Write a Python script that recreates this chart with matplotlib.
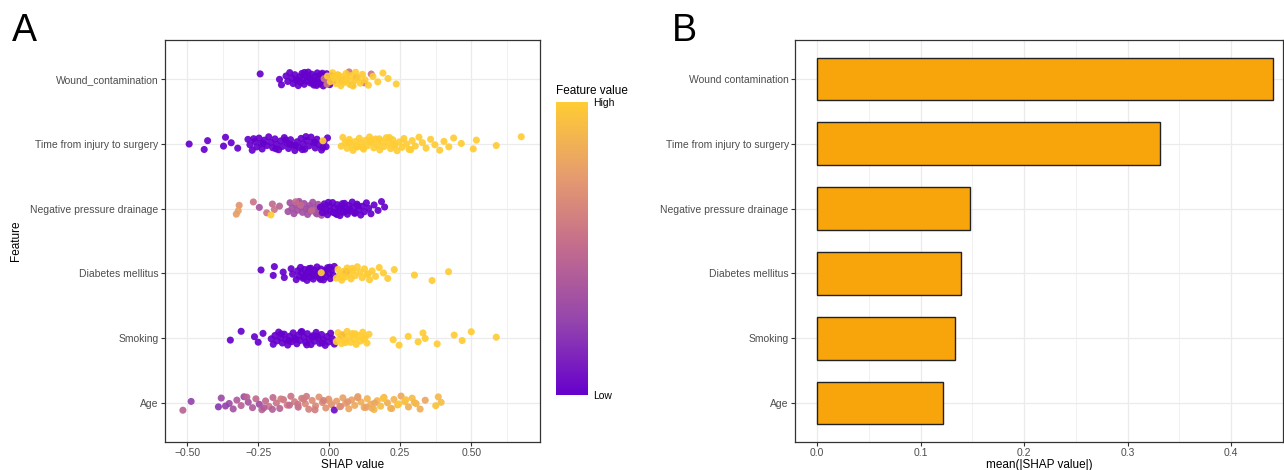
import numpy as np
import matplotlib
matplotlib.use("Agg")
import matplotlib.pyplot as plt
from matplotlib.colors import LinearSegmentedColormap

plt.rcParams['font.family'] = ['Liberation Sans', 'DejaVu Sans']

# features, bottom to top
features = ['Age', 'Smoking', 'Diabetes mellitus', 'Negative pressure drainage',
            'Time from injury to surgery', 'Wound_contamination']
bar_labels = ['Age', 'Smoking', 'Diabetes mellitus', 'Negative pressure drainage',
              'Time from injury to surgery', 'Wound contamination']
mean_abs_shap = [0.122, 0.133, 0.139, 0.148, 0.331, 0.441]

# panel A: SHAP values, grouped by feature value
wound_low = [-0.243, -0.175, -0.168, -0.152, -0.146, -0.139, -0.131, -0.127, -0.121, -0.116,
             -0.109, -0.104, -0.101, -0.096, -0.091, -0.088, -0.083, -0.079, -0.074, -0.071,
             -0.066, -0.062, -0.058, -0.054, -0.049, -0.046, -0.042, -0.038, -0.034, -0.029,
             -0.026, -0.021, -0.017, -0.013, -0.009, -0.004, 0.002, 0.007, 0.013, -0.087,
             -0.068, -0.052, -0.031, -0.112, -0.044, -0.015, -0.061, -0.024]
wound_mid = [-0.018, -0.008, 0.030, 0.044, 0.070, 0.095, 0.123, 0.148, 0.058, 0.081]
wound_high = [-0.006, 0.004, 0.012, 0.018, 0.024, 0.029, 0.036, 0.041, 0.047, 0.053,
              0.059, 0.064, 0.072, 0.078, 0.087, 0.093, 0.102, 0.109, 0.117, 0.126,
              0.138, 0.154, 0.171, 0.189, 0.207, 0.236, 0.033, 0.061, 0.084, 0.015]

time_low = [-0.493, -0.440, -0.428, -0.372, -0.365, -0.345, -0.322, -0.286, -0.279, -0.271,
            -0.262, -0.255, -0.247, -0.241, -0.236, -0.228, -0.219, -0.213, -0.206, -0.199,
            -0.191, -0.186, -0.178, -0.171, -0.165, -0.158, -0.149, -0.143, -0.136, -0.128,
            -0.121, -0.113, -0.107, -0.099, -0.092, -0.086, -0.079, -0.071, -0.064, -0.057,
            -0.049, -0.043, -0.036, -0.027, -0.018, -0.011, -0.006, -0.232, -0.188, -0.154,
            -0.118, -0.082, -0.051, -0.022, -0.266, -0.139, -0.095]
time_high = [-0.022, 0.042, 0.048, 0.056, 0.063, 0.071, 0.078, 0.084, 0.092, 0.099,
             0.106, 0.113, 0.121, 0.128, 0.134, 0.142, 0.149, 0.157, 0.163, 0.171,
             0.178, 0.186, 0.193, 0.201, 0.208, 0.216, 0.224, 0.231, 0.239, 0.247,
             0.256, 0.263, 0.272, 0.281, 0.292, 0.303, 0.316, 0.328, 0.341, 0.357,
             0.372, 0.389, 0.404, 0.421, 0.438, 0.465, 0.507, 0.518, 0.588, 0.676,
             0.067, 0.118, 0.176, 0.229, 0.287, 0.146, 0.097, 0.212]

npd_shap = [-0.327, -0.317, -0.320, -0.267, -0.246, -0.220, -0.200, -0.193, -0.205, -0.175,
            -0.145, -0.138, -0.131, -0.124, -0.117, -0.112, -0.106, -0.099, -0.094, -0.088,
            -0.081, -0.076, -0.069, -0.064, -0.058, -0.051, -0.046, -0.039, -0.033, -0.027,
            -0.021, -0.013, -0.109, -0.072, -0.043, -0.101, -0.062, -0.118,
            -0.031, -0.024, -0.017, -0.011, -0.006, 0.001, 0.006, 0.012, 0.017, 0.022,
            0.028, 0.033, 0.038, 0.043, 0.049, 0.054, 0.059, 0.064, 0.069, 0.075,
            0.081, 0.086, 0.092, 0.098, 0.104, 0.111, 0.117, 0.124, 0.131, 0.139,
            0.147, 0.158, 0.172, 0.184, 0.195, 0.014, 0.046, 0.072, 0.027, 0.101,
            0.058, -0.003, 0.036, 0.089]
npd_value = [0.75, 0.72, 0.78, 0.55, 0.35, 0.55, 0.50, 0.55, 1.00, 0.45,
             0.33, 0.33, 0.33, 0.33, 0.33, 0.33, 0.33, 0.33, 0.33, 0.33,
             0.33, 0.33, 0.33, 0.33, 0.33, 0.33, 0.33, 0.33, 0.33, 0.33,
             0.33, 0.33, 0.33, 0.33, 0.33, 0.50, 0.50, 0.50,
             0, 0, 0, 0, 0, 0, 0, 0, 0, 0,
             0, 0, 0, 0, 0, 0, 0, 0, 0, 0,
             0, 0, 0, 0, 0, 0, 0, 0, 0, 0,
             0, 0, 0, 0, 0, 0, 0, 0, 0, 0,
             0, 0, 0, 0]

diab_low = [-0.240, -0.197, -0.193, -0.162, -0.158, -0.134, -0.129, -0.116, -0.111, -0.106,
            -0.101, -0.097, -0.092, -0.087, -0.083, -0.078, -0.074, -0.069, -0.065, -0.061,
            -0.056, -0.052, -0.047, -0.043, -0.038, -0.034, -0.029, -0.025, -0.020, -0.015,
            -0.011, -0.006, -0.001, 0.004, 0.009, 0.014, 0.018, 0.060, -0.089, -0.071,
            -0.049, -0.031, -0.013, -0.058, 0.002]
diab_high = [-0.028, 0.025, 0.031, 0.038, 0.044, 0.051, 0.057, 0.063, 0.070, 0.077,
             0.085, 0.092, 0.099, 0.108, 0.116, 0.124, 0.133, 0.142, 0.151, 0.163,
             0.176, 0.191, 0.206, 0.229, 0.300, 0.362, 0.420, 0.047, 0.081, 0.138]

smoke_low = [-0.348, -0.310, -0.263, -0.250, -0.233, -0.204, -0.197, -0.191, -0.184, -0.178,
             -0.171, -0.165, -0.158, -0.152, -0.146, -0.139, -0.133, -0.127, -0.121, -0.114,
             -0.108, -0.102, -0.096, -0.089, -0.083, -0.077, -0.071, -0.064, -0.058, -0.052,
             -0.046, -0.039, -0.033, -0.027, -0.021, -0.014, -0.008, -0.002, 0.005, 0.011,
             0.018, 0.045, -0.142, -0.099, -0.061, -0.024, -0.168, -0.117, -0.079, -0.043]
smoke_high = [0.025, 0.031, 0.037, 0.044, 0.050, 0.056, 0.063, 0.069, 0.076, 0.082,
              0.089, 0.095, 0.103, 0.110, 0.118, 0.126, 0.133, 0.140, 0.225, 0.246,
              0.278, 0.313, 0.330, 0.338, 0.380, 0.440, 0.468, 0.500, 0.588, 0.058,
              0.092, 0.121]

age_shap = [-0.515, -0.486, -0.390, -0.380, -0.352, -0.338, -0.325, -0.310, -0.300, -0.285,
            -0.270, -0.258, -0.246, -0.237, -0.224, -0.212, -0.198, -0.186, -0.174, -0.161,
            -0.148, -0.135, -0.122, -0.109, -0.097, -0.084, -0.072, -0.060, -0.048, -0.036,
            -0.024, -0.012, -0.002, 0.008, 0.018, 0.026, 0.037, 0.048, 0.058, 0.069,
            0.079, 0.090, 0.101, 0.112, 0.123, 0.134, 0.146, 0.158, 0.169, 0.181,
            0.193, 0.205, 0.216, 0.228, 0.241, 0.253, 0.266, 0.279, 0.292, 0.306,
            0.320, 0.338, 0.375, 0.384, 0.394, -0.230, -0.170, -0.110, -0.050, 0.000,
            0.040, 0.100, 0.160, 0.220, 0.270, -0.140, -0.080, 0.065, 0.130, 0.190,
            0.245, -0.200, -0.020, -0.365, -0.290, 0.300, 0.150, -0.090]
age_value = [0.45, 0.25, 0.20, 0.30, 0.30, 0.35, 0.40, 0.45, 0.30, 0.35,
             0.40, 0.50, 0.30, 0.45, 0.50, 0.55, 0.50, 0.55, 0.45, 0.55,
             0.60, 0.55, 0.60, 0.50, 0.60, 0.65, 0.62, 0.68, 0.65, 0.70,
             0.68, 0.70, 0.72, 0.70, 0.05, 0.75, 0.72, 0.78, 0.75, 0.80,
             0.78, 0.82, 0.80, 0.85, 0.82, 0.88, 0.85, 0.90, 0.88, 0.92,
             0.90, 0.85, 0.92, 0.88, 0.90, 0.82, 0.90, 0.85, 0.92, 0.88,
             0.85, 0.80, 0.95, 0.90, 0.92, 0.40, 0.60, 0.55, 0.60, 0.75,
             0.68, 0.75, 0.80, 0.85, 0.95, 0.50, 0.58, 0.72, 0.78, 0.95,
             0.98, 0.42, 0.62, 0.25, 0.45, 0.90, 0.84, 0.60]

rows = [
    (age_shap, age_value),
    (smoke_low + smoke_high, [0] * len(smoke_low) + [1] * len(smoke_high)),
    (diab_low + diab_high, [0] * len(diab_low) + [1] * len(diab_high)),
    (npd_shap, npd_value),
    (time_low + time_high, [0] * len(time_low) + [1] * len(time_high)),
    (wound_low + wound_mid + wound_high,
     [0] * len(wound_low) + [0.55] * len(wound_mid) + [1] * len(wound_high)),
]

cmap = LinearSegmentedColormap.from_list(
    'shap', [(0.0, '#6600CC'), (0.25, '#9445AD'), (0.5, '#C26B8E'),
             (0.75, '#E69C6E'), (1.0, '#FFCC33')])

grid_c = '#EBEBEB'
frame_c = '#333333'
text_c = '#4D4D4D'

fig = plt.figure(figsize=(12.84, 4.70), dpi=100)

# ---- panel A
axA = fig.add_axes([165 / 1284, 28 / 470, 375 / 1284, 402 / 470])
for i, (xs, vs) in enumerate(rows):
    n = len(xs)
    jit = ((np.arange(n) * 0.618034 + i * 0.37) % 1 - 0.5) * 0.22
    sc = axA.scatter(xs, i + jit, c=vs, cmap=cmap, vmin=0, vmax=1,
                     s=26, alpha=0.92, linewidths=0, zorder=3)

axA.set_xlim(-0.578, 0.742)
axA.set_ylim(-0.6, 5.6)
axA.set_yticks(range(len(features)))
axA.set_yticklabels(features)
axA.set_xticks([-0.5, -0.25, 0, 0.25, 0.5])
axA.set_xticklabels(['\u22120.50', '\u22120.25', '0.00', '0.25', '0.50'])
axA.set_xticks([-0.375, -0.125, 0.125, 0.375, 0.625], minor=True)
axA.grid(True, which='major', color=grid_c, linewidth=0.9, zorder=0)
axA.grid(True, which='minor', axis='x', color=grid_c, linewidth=0.5, zorder=0)
axA.set_axisbelow(True)
axA.tick_params(which='major', length=3, color=frame_c, labelsize=7.5, labelcolor=text_c, pad=1.5)
axA.tick_params(which='minor', length=0)
for sp in axA.spines.values():
    sp.set_color(frame_c)
    sp.set_linewidth(0.9)
axA.set_xlabel('SHAP value', fontsize=8.5, labelpad=0.5)
axA.set_ylabel('Feature', fontsize=8.5, labelpad=6)

# colourbar
cax = fig.add_axes([556 / 1284, 75 / 470, 32 / 1284, 293 / 470])
cb = fig.colorbar(sc, cax=cax)
cb.solids.set_alpha(1)
cb.outline.set_visible(False)
cb.set_ticks([0, 1])
cb.ax.set_yticklabels(['Low', 'High'])
cb.ax.tick_params(length=0, labelsize=7.5, pad=4, labelcolor='black')
fig.text(556 / 1284, 1 - 91 / 470, 'Feature value', fontsize=8.5, ha='left', va='center')

# ---- panel B
axB = fig.add_axes([795 / 1284, 28 / 470, 488 / 1284, 402 / 470])
ypos = np.arange(len(bar_labels))
axB.barh(ypos, mean_abs_shap, height=0.66, color='#F8A50B', edgecolor='#222222',
         linewidth=1.0, zorder=3)
axB.set_xlim(-0.0213, 0.4502)
axB.set_ylim(-0.6, 5.6)
axB.set_yticks(ypos)
axB.set_yticklabels(bar_labels)
axB.set_xticks([0, 0.1, 0.2, 0.3, 0.4])
axB.set_xticklabels(['0.0', '0.1', '0.2', '0.3', '0.4'])
axB.set_xticks([0.05, 0.15, 0.25, 0.35, 0.45], minor=True)
axB.grid(True, which='major', color=grid_c, linewidth=0.9, zorder=0)
axB.grid(True, which='minor', axis='x', color=grid_c, linewidth=0.5, zorder=0)
axB.set_axisbelow(True)
axB.tick_params(which='major', length=3, color=frame_c, labelsize=7.5, labelcolor=text_c, pad=1.5)
axB.tick_params(which='minor', length=0)
for sp in axB.spines.values():
    sp.set_color(frame_c)
    sp.set_linewidth(0.9)
axB.set_xlabel('mean(|SHAP value|)', fontsize=8.5, labelpad=0.5)

# panel letters
fig.text(12 / 1284, 1 - 31 / 470, 'A', fontsize=27, ha='left', va='center')
fig.text(672 / 1284, 1 - 31 / 470, 'B', fontsize=27, ha='left', va='center')

fig.savefig('out.png', dpi=100)
